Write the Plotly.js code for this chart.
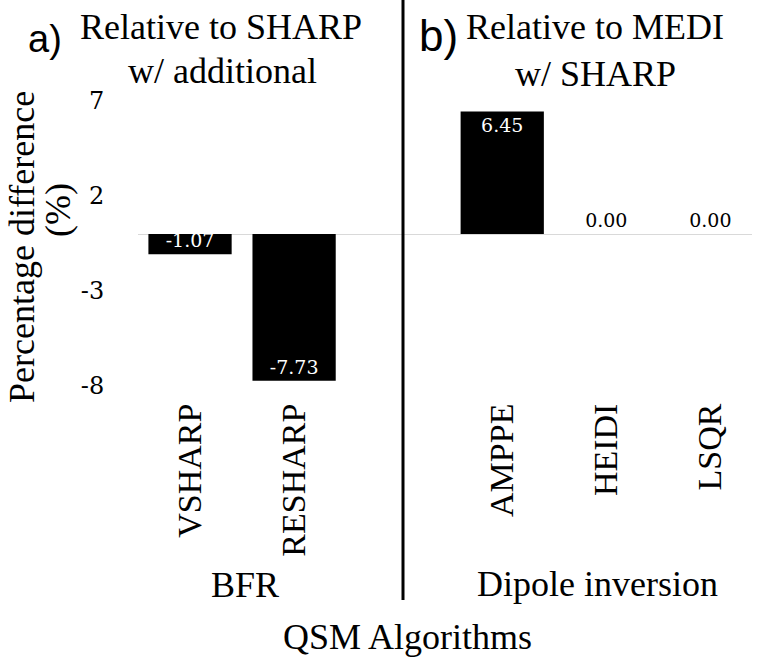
<!DOCTYPE html>
<html>
<head>
<meta charset="utf-8">
<script src="https://cdn.plot.ly/plotly-3.0.1.min.js"></script>
<style>html,body{margin:0;padding:0;background:#fff;}#chart{width:757px;height:664px;}</style>
</head>
<body>
<div id="chart"></div>
<script>
// ---- data ----
const categories = ['VSHARP', 'RESHARP', 'AMPPE', 'HEIDI', 'LSQR'];
const values = [-1.07, -7.73, 6.45, 0.00, 0.00];
const groupBFR = ['VSHARP', 'RESHARP'];
const groupDipole = ['AMPPE', 'HEIDI', 'LSQR'];
const yTicks = [7, 2, -3, -8];
const spacer = ' ';

// ---- layout helpers ----
const W = 757, H = 664;
const L = 138, R = 5, T = 101, B = 278;
const pw = W - L - R, ph = H - T - B;
const px = x => (x - L) / pw;
const py = y => (H - B - y) / ph;

const serif = '"Liberation Serif", "Times New Roman", Times, serif';
const numFont = '"DejaVu Serif", Georgia, serif';
const sans = '"Liberation Sans", Arial, sans-serif';

const catOrder = groupBFR.concat([spacer], groupDipole);
const textPos = values.map(v => v === 0 ? 'outside' : 'inside');

const trace = {
  type: 'bar',
  x: categories,
  y: values,
  marker: {color: '#000000', line: {width: 0}},
  texttemplate: '%{y:.2f}',
  textposition: textPos,
  insidetextanchor: 'end',
  constraintext: 'none',
  cliponaxis: false,
  insidetextfont: {family: numFont, size: 19, color: '#ffffff'},
  outsidetextfont: {family: numFont, size: 19, color: '#000000'},
  hoverinfo: 'skip'
};

function ann(text, x, y, size, family, extra) {
  return Object.assign({
    text: text, xref: 'paper', yref: 'paper', x: px(x), y: py(y),
    xanchor: 'center', yanchor: 'middle', showarrow: false,
    font: {family: family || serif, size: size, color: '#000'}
  }, extra || {});
}

const layout = {
  width: W, height: H,
  margin: {l: L, r: R, t: T, b: B, pad: 0},
  paper_bgcolor: '#ffffff',
  plot_bgcolor: '#ffffff',
  showlegend: false,
  bargap: 0.2,
  xaxis: {
    type: 'category',
    categoryorder: 'array',
    categoryarray: catOrder,
    range: [-0.5, 5.4],
    showgrid: false, zeroline: false, showline: false,
    ticks: 'outside', ticklen: 3, tickcolor: 'rgba(0,0,0,0)',
    tickangle: -90,
    tickfont: {family: serif, size: 34, color: '#000'},
    fixedrange: true
  },
  yaxis: {
    range: [-8, 7],
    tickvals: yTicks,
    ticktext: yTicks.map(String),
    showgrid: false,
    zeroline: true, zerolinecolor: '#d9d9d9', zerolinewidth: 1,
    showline: false,
    ticks: 'outside', ticklen: 28, tickcolor: 'rgba(0,0,0,0)',
    tickfont: {family: numFont, size: 24, color: '#000'},
    fixedrange: true
  },
  shapes: [{
    type: 'line', xref: 'paper', yref: 'paper',
    x0: px(403), x1: px(403), y0: py(600), y1: py(0),
    line: {color: '#000', width: 3}
  }],
  annotations: [
    ann('a)', 45, 39, 38, sans),
    ann('Relative to SHARP', 221, 27, 36),
    ann('w/ additional', 222, 71, 36),
    ann('b)', 438, 36, 44, sans),
    ann('Relative to MEDI', 595, 27, 36),
    ann('w/ SHARP', 595, 74, 36),
    ann('Percentage difference', 22, 247, 36, serif, {textangle: -90}),
    ann('(%)', 58, 210, 36, serif, {textangle: -90}),
    ann('BFR', 245, 585, 36),
    ann('Dipole inversion', 597, 584, 36),
    ann('QSM Algorithms', 407, 637, 36)
  ]
};

Plotly.newPlot('chart', [trace], layout, {displayModeBar: false, staticPlot: true});
</script>
</body>
</html>
